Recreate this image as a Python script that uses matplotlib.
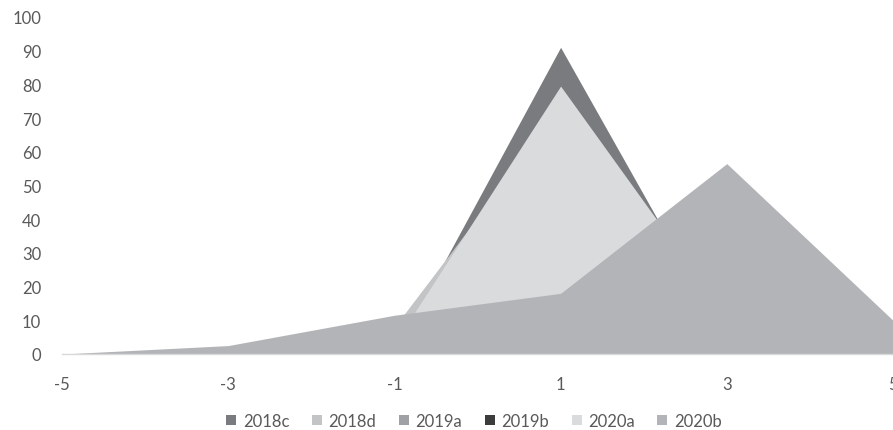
import matplotlib
matplotlib.use("Agg")
import matplotlib.pyplot as plt
from matplotlib.patches import Patch

plt.rcParams['font.family'] = ['Lato', 'DejaVu Sans']

x = [-5, -3, -1, 1, 3, 5]
series_names = ["2018c", "2018d", "2019a", "2019b", "2020a", "2020b"]
v2018c = [0, 0, 0, 91, 3.5, 0]
v2018d = [0, 0, 8, 73, 5, 0]
v2019a = [0, 1, 5, 50, 20, 2]
v2019b = [0, 0, 2, 40, 15, 1]
v2020a = [0, 0, 3, 79.5, 11, 0]
v2020b = [0, 2.5, 11.5, 18, 56.5, 10]
values = [v2018c, v2018d, v2019a, v2019b, v2020a, v2020b]
colors = ["#7a7b7e", "#c3c4c6", "#a0a1a4", "#3c3c3c", "#dadbdd", "#b3b4b7"]
yticks = list(range(0, 101, 10))
xticks = [-5, -3, -1, 1, 3, 5]

fig = plt.figure(figsize=(8.93, 4.31), dpi=100)
ax = fig.add_axes([62/893, 76/431, 1 - 62/893, (355-18)/431])

for name, vals, c in zip(series_names, values, colors):
    ax.fill_between(x, 0, vals, color=c, linewidth=0, label=name)

ax.set_xlim(-5, 5)
ax.set_ylim(0, 100)
ax.set_yticks(yticks)
ax.set_xticks(xticks)
ax.set_xticklabels([str(t) for t in xticks])
for s in ["top", "right", "left"]:
    ax.spines[s].set_visible(False)
ax.spines["bottom"].set_color("#d9d9d9")
ax.spines["bottom"].set_linewidth(1.0)
ax.tick_params(axis="both", length=0, labelsize=12, labelcolor="#595959")
ax.tick_params(axis="y", pad=15)
ax.tick_params(axis="x", pad=16)
ax.set_facecolor("none")

handles = [Patch(facecolor=c, edgecolor="none", label=n) for n, c in zip(series_names, colors)]
fig.legend(handles=handles, loc="center", bbox_to_anchor=(474/893, 1 - 422/431), ncol=6,
           frameon=False, fontsize=12, labelcolor="#595959", handlelength=0.6, handleheight=0.6,
           handletextpad=0.4, columnspacing=1.35, borderpad=0)

fig.savefig("out.png", dpi=100)
